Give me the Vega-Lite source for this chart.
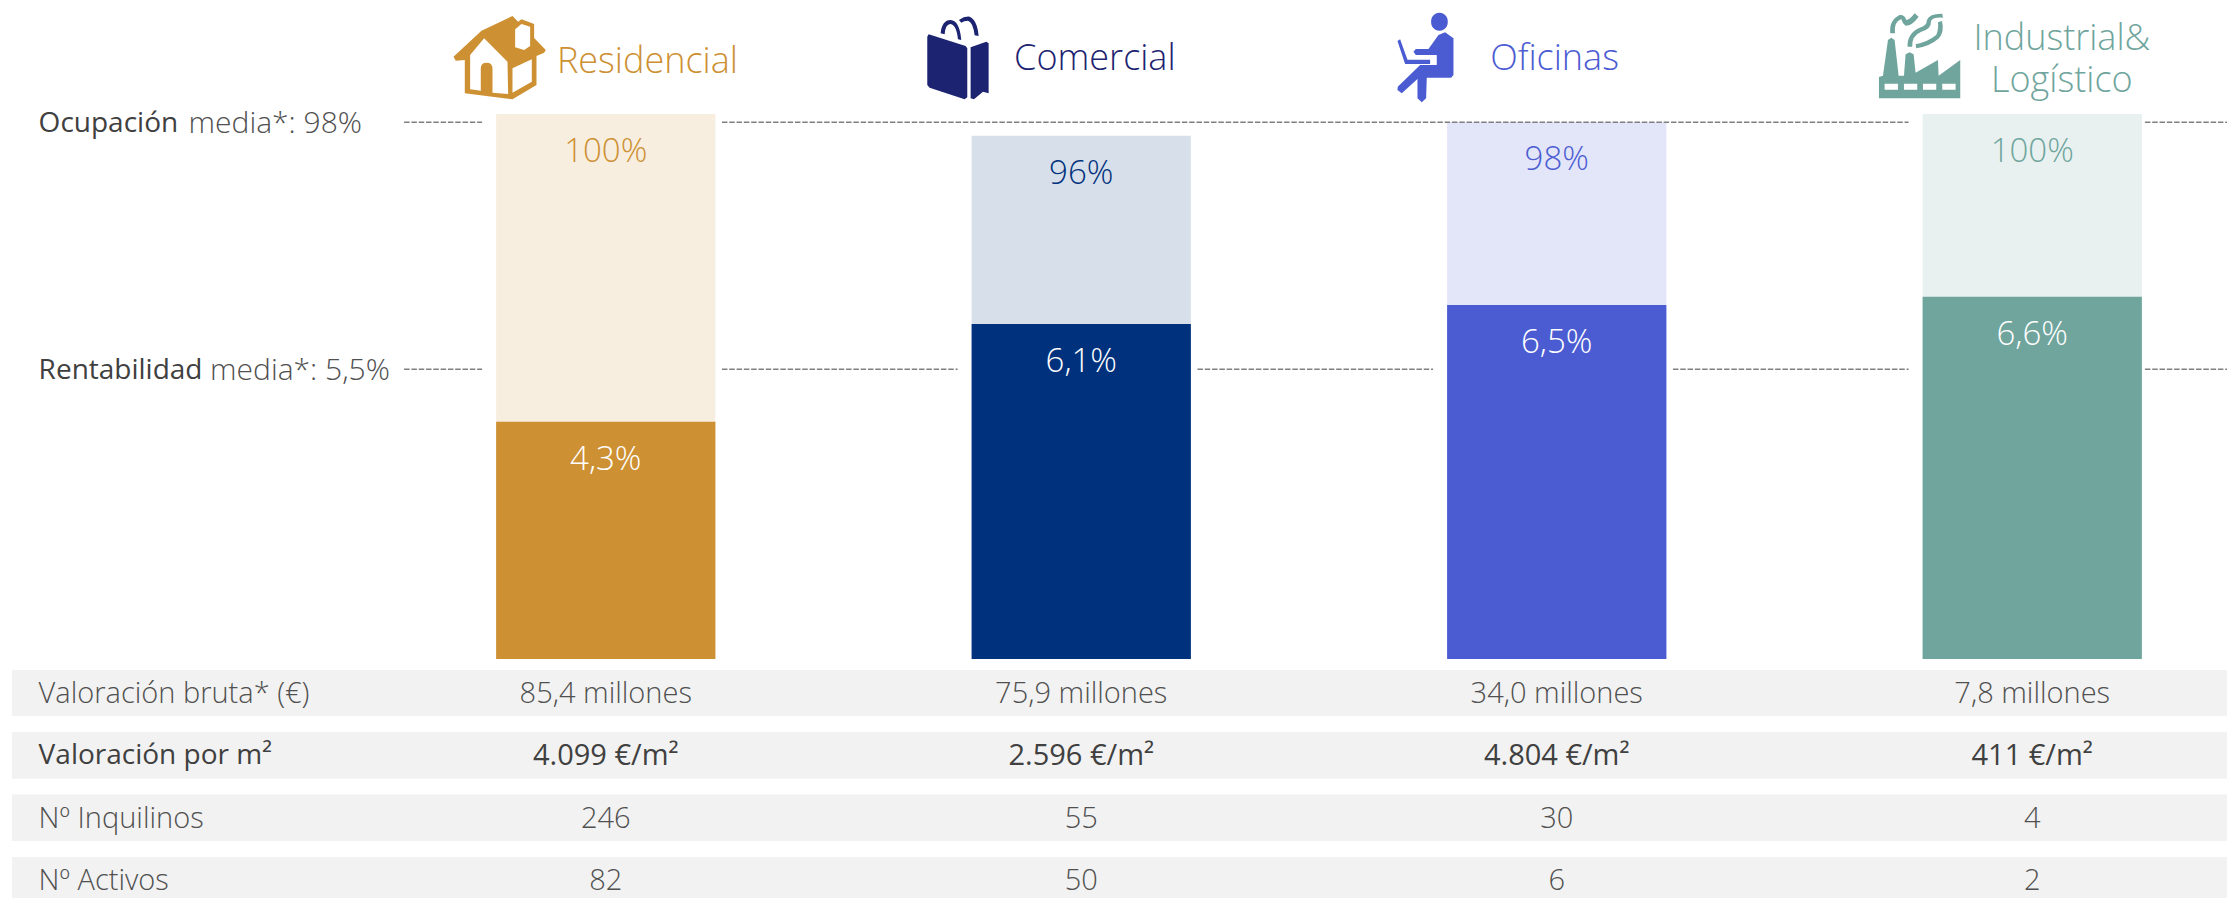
{
"$schema":"https://vega.github.io/schema/vega-lite/v6.json",
"width":2215,"height":898,"padding":{"left":12,"top":0,"right":0,"bottom":0},"autosize":{"type":"none"},"background":"white",
"config":{"view":{"stroke":null},"text":{"font":"Open Sans","fontWeight":300}},
"datasets":{
"sectores":[
{"sector":"Residencial","ocupacion":100,"ocupacionTexto":"100%","rentabilidad":4.32,"rentabilidadTexto":"4,3%"},
{"sector":"Comercial","ocupacion":96,"ocupacionTexto":"96%","rentabilidad":6.1,"rentabilidadTexto":"6,1%"},
{"sector":"Oficinas","ocupacion":98.5,"ocupacionTexto":"98%","rentabilidad":6.45,"rentabilidadTexto":"6,5%"},
{"sector":"Industrial","ocupacion":100,"ocupacionTexto":"100%","rentabilidad":6.6,"rentabilidadTexto":"6,6%"}],
"cabecera":[
{"sector":"Residencial","linea":"Cabecera","texto":"Residencial"},
{"sector":"Comercial","linea":"Cabecera","texto":"Comercial"},
{"sector":"Oficinas","linea":"Cabecera","texto":"Oficinas"},
{"sector":"Industrial","linea":"Línea 1","texto":"Industrial&"},
{"sector":"Industrial","linea":"Línea 2","texto":"Logístico"}],
"iconos":[{"sector":"Residencial","linea":"Cabecera"},{"sector":"Comercial","linea":"Cabecera"},{"sector":"Oficinas","linea":"Cabecera"},{"sector":"Industrial","linea":"Cabecera"}],
"tabla":[
{"fila":"Valoración bruta* (€)","sector":"Etiqueta","valor":"Valoración bruta* (€)"},
{"fila":"Valoración bruta* (€)","sector":"Residencial","valor":"85,4 millones"},
{"fila":"Valoración bruta* (€)","sector":"Comercial","valor":"75,9 millones"},
{"fila":"Valoración bruta* (€)","sector":"Oficinas","valor":"34,0 millones"},
{"fila":"Valoración bruta* (€)","sector":"Industrial","valor":"7,8 millones"},
{"fila":"Valoración por m²","sector":"Etiqueta","valor":"Valoración por m²"},
{"fila":"Valoración por m²","sector":"Residencial","valor":"4.099 €/m²"},
{"fila":"Valoración por m²","sector":"Comercial","valor":"2.596 €/m²"},
{"fila":"Valoración por m²","sector":"Oficinas","valor":"4.804 €/m²"},
{"fila":"Valoración por m²","sector":"Industrial","valor":"411 €/m²"},
{"fila":"Nº Inquilinos","sector":"Etiqueta","valor":"Nº Inquilinos"},
{"fila":"Nº Inquilinos","sector":"Residencial","valor":"246"},
{"fila":"Nº Inquilinos","sector":"Comercial","valor":"55"},
{"fila":"Nº Inquilinos","sector":"Oficinas","valor":"30"},
{"fila":"Nº Inquilinos","sector":"Industrial","valor":"4"},
{"fila":"Nº Activos","sector":"Etiqueta","valor":"Nº Activos"},
{"fila":"Nº Activos","sector":"Residencial","valor":"82"},
{"fila":"Nº Activos","sector":"Comercial","valor":"50"},
{"fila":"Nº Activos","sector":"Oficinas","valor":"6"},
{"fila":"Nº Activos","sector":"Industrial","valor":"2"}],
"ocupacionMedia":[
{"desde":"Etiqueta","hasta":"Residencial","media":98.5,"titulo":"Ocupación","detalle":"media*: 98%","tramo":"inicio"},
{"desde":"Residencial","hasta":"Industrial","media":98.5,"titulo":"Ocupación","detalle":"media*: 98%","tramo":"medio"},
{"desde":"Industrial","hasta":"Industrial","media":98.5,"titulo":"Ocupación","detalle":"media*: 98%","tramo":"fin"}],
"rentabilidadMedia":[
{"desde":"Etiqueta","hasta":"Residencial","media":5.28,"titulo":"Rentabilidad","detalle":"media*: 5,5%","tramo":"inicio"},
{"desde":"Residencial","hasta":"Comercial","media":5.28,"titulo":"Rentabilidad","detalle":"media*: 5,5%","tramo":"medio"},
{"desde":"Comercial","hasta":"Oficinas","media":5.28,"titulo":"Rentabilidad","detalle":"media*: 5,5%","tramo":"medio"},
{"desde":"Oficinas","hasta":"Industrial","media":5.28,"titulo":"Rentabilidad","detalle":"media*: 5,5%","tramo":"medio"},
{"desde":"Industrial","hasta":"Industrial","media":5.28,"titulo":"Rentabilidad","detalle":"media*: 5,5%","tramo":"fin"}]
},
"resolve":{"scale":{"y":"independent","color":"independent"}},
"layer":[
{"layer":[
{"data":{"name":"tabla"},"mark":{"type":"rect","fill":"#f2f2f2"},
 "encoding":{"y":{"field":"fila","type":"nominal","axis":null,"scale":{"domain":["Valoración bruta* (€)","Valoración por m²","Nº Inquilinos","Nº Activos"],"range":[670,903],"paddingInner":0.262,"paddingOuter":0}}}},
{"data":{"name":"tabla"},"transform":[{"filter":"datum.sector==='Etiqueta'&&datum.fila!=='Valoración por m²'"}],"mark":{"type":"text","align":"left","baseline":"middle","fontSize":29,"dy":1,"color":"#505050"},
 "encoding":{"x":{"field":"sector","type":"nominal","axis":null,"bandPosition":0.082,"scale":{"domain":["Etiqueta","Residencial","Comercial","Oficinas","Industrial"],"range":[-119.5,2258],"paddingInner":0.5389,"paddingOuter":0.2695}},
 "y":{"field":"fila","type":"nominal","axis":null,"scale":{"domain":["Valoración bruta* (€)","Valoración por m²","Nº Inquilinos","Nº Activos"],"range":[670,903],"paddingInner":0.262,"paddingOuter":0}},"text":{"field":"valor"}}},
{"data":{"name":"tabla"},"transform":[{"filter":"datum.sector==='Etiqueta'&&datum.fila==='Valoración por m²'"}],"mark":{"type":"text","align":"left","baseline":"middle","fontSize":28,"dy":1,"color":"#404040","fontWeight":400},
 "encoding":{"x":{"field":"sector","type":"nominal","axis":null,"bandPosition":0.082,"scale":{"domain":["Etiqueta","Residencial","Comercial","Oficinas","Industrial"],"range":[-119.5,2258],"paddingInner":0.5389,"paddingOuter":0.2695}},
 "y":{"field":"fila","type":"nominal","axis":null,"scale":{"domain":["Valoración bruta* (€)","Valoración por m²","Nº Inquilinos","Nº Activos"],"range":[670,903],"paddingInner":0.262,"paddingOuter":0}},"text":{"field":"valor"}}},
{"data":{"name":"tabla"},"transform":[{"filter":"datum.sector!=='Etiqueta'&&datum.fila!=='Valoración por m²'"}],"mark":{"type":"text","align":"center","baseline":"middle","fontSize":29,"dy":1,"color":"#505050"},
 "encoding":{"x":{"field":"sector","type":"nominal","axis":null,"scale":{"domain":["Etiqueta","Residencial","Comercial","Oficinas","Industrial"],"range":[-119.5,2258],"paddingInner":0.5389,"paddingOuter":0.2695}},
 "y":{"field":"fila","type":"nominal","axis":null,"scale":{"domain":["Valoración bruta* (€)","Valoración por m²","Nº Inquilinos","Nº Activos"],"range":[670,903],"paddingInner":0.262,"paddingOuter":0}},"text":{"field":"valor"}}},
{"data":{"name":"tabla"},"transform":[{"filter":"datum.sector!=='Etiqueta'&&datum.fila==='Valoración por m²'"}],"mark":{"type":"text","align":"center","baseline":"middle","fontSize":29,"dy":1,"color":"#404040","fontWeight":400},
 "encoding":{"x":{"field":"sector","type":"nominal","axis":null,"scale":{"domain":["Etiqueta","Residencial","Comercial","Oficinas","Industrial"],"range":[-119.5,2258],"paddingInner":0.5389,"paddingOuter":0.2695}},
 "y":{"field":"fila","type":"nominal","axis":null,"scale":{"domain":["Valoración bruta* (€)","Valoración por m²","Nº Inquilinos","Nº Activos"],"range":[670,903],"paddingInner":0.262,"paddingOuter":0}},"text":{"field":"valor"}}}
]},
{"layer":[
{"data":{"name":"sectores"},"mark":{"type":"bar","opacity":0.155},
 "encoding":{"x":{"field":"sector","type":"nominal","axis":null,"scale":{"domain":["Etiqueta","Residencial","Comercial","Oficinas","Industrial"],"range":[-119.5,2258],"paddingInner":0.5389,"paddingOuter":0.2695}},
 "y":{"field":"ocupacion","type":"quantitative","axis":null,"scale":{"domain":[0,100],"range":[659,114]}},
 "color":{"field":"sector","type":"nominal","legend":null,"scale":{"domain":["Residencial","Comercial","Oficinas","Industrial"],"range":["#cd9033","#00317c","#4b5cd2","#6fa59d"]}}}},
{"data":{"name":"sectores"},"mark":{"type":"text","align":"center","baseline":"middle","fontSize":33,"dy":38},
 "encoding":{"x":{"field":"sector","type":"nominal","axis":null,"scale":{"domain":["Etiqueta","Residencial","Comercial","Oficinas","Industrial"],"range":[-119.5,2258],"paddingInner":0.5389,"paddingOuter":0.2695}},
 "y":{"field":"ocupacion","type":"quantitative","axis":null,"scale":{"domain":[0,100],"range":[659,114]}},
 "text":{"field":"ocupacionTexto"},
 "color":{"field":"sector","type":"nominal","legend":null,"scale":{"domain":["Residencial","Comercial","Oficinas","Industrial"],"range":["#cd9033","#00317c","#4b5cd2","#6fa59d"]}}}},
{"data":{"name":"ocupacionMedia"},"transform":[{"filter":"datum.tramo==='inicio'"}],"mark":{"type":"rule","color":"#808080","strokeWidth":1.5,"strokeDash":[5.5,1.8]},
 "encoding":{"x":{"field":"desde","type":"nominal","axis":null,"bandPosition":1.749,"scale":{"domain":["Etiqueta","Residencial","Comercial","Oficinas","Industrial"],"range":[-119.5,2258],"paddingInner":0.5389,"paddingOuter":0.2695}},"x2":{"field":"hasta","bandPosition":-0.064},
 "y":{"field":"media","type":"quantitative","axis":null,"scale":{"domain":[0,100],"range":[659,114]}}}},
{"data":{"name":"ocupacionMedia"},"transform":[{"filter":"datum.tramo==='medio'"}],"mark":{"type":"rule","color":"#808080","strokeWidth":1.5,"strokeDash":[5.5,1.8]},
 "encoding":{"x":{"field":"desde","type":"nominal","axis":null,"bandPosition":1.03,"scale":{"domain":["Etiqueta","Residencial","Comercial","Oficinas","Industrial"],"range":[-119.5,2258],"paddingInner":0.5389,"paddingOuter":0.2695}},"x2":{"field":"hasta","bandPosition":-0.064},
 "y":{"field":"media","type":"quantitative","axis":null,"scale":{"domain":[0,100],"range":[659,114]}}}},
{"data":{"name":"ocupacionMedia"},"transform":[{"filter":"datum.tramo==='fin'"}],"mark":{"type":"rule","color":"#808080","strokeWidth":1.5,"strokeDash":[5.5,1.8]},
 "encoding":{"x":{"field":"desde","type":"nominal","axis":null,"bandPosition":1.014,"scale":{"domain":["Etiqueta","Residencial","Comercial","Oficinas","Industrial"],"range":[-119.5,2258],"paddingInner":0.5389,"paddingOuter":0.2695}},"x2":{"field":"hasta","bandPosition":1.39},
 "y":{"field":"media","type":"quantitative","axis":null,"scale":{"domain":[0,100],"range":[659,114]}}}},
{"data":{"name":"ocupacionMedia"},"transform":[{"filter":"datum.tramo==='inicio'"}],"mark":{"type":"text","align":"left","baseline":"middle","fontSize":28,"dy":2,"color":"#404040","fontWeight":400},
 "encoding":{"x":{"field":"desde","type":"nominal","axis":null,"bandPosition":0.082,"scale":{"domain":["Etiqueta","Residencial","Comercial","Oficinas","Industrial"],"range":[-119.5,2258],"paddingInner":0.5389,"paddingOuter":0.2695}},
 "y":{"field":"media","type":"quantitative","axis":null,"scale":{"domain":[0,100],"range":[659,114]}},"text":{"field":"titulo"}}},
{"data":{"name":"ocupacionMedia"},"transform":[{"filter":"datum.tramo==='inicio'"}],"mark":{"type":"text","align":"left","baseline":"middle","fontSize":30,"dy":2,"color":"#505050"},
 "encoding":{"x":{"field":"desde","type":"nominal","axis":null,"bandPosition":0.766,"scale":{"domain":["Etiqueta","Residencial","Comercial","Oficinas","Industrial"],"range":[-119.5,2258],"paddingInner":0.5389,"paddingOuter":0.2695}},
 "y":{"field":"media","type":"quantitative","axis":null,"scale":{"domain":[0,100],"range":[659,114]}},"text":{"field":"detalle"}}}
]},
{"layer":[
{"data":{"name":"sectores"},"mark":{"type":"bar"},
 "encoding":{"x":{"field":"sector","type":"nominal","axis":null,"scale":{"domain":["Etiqueta","Residencial","Comercial","Oficinas","Industrial"],"range":[-119.5,2258],"paddingInner":0.5389,"paddingOuter":0.2695}},
 "y":{"field":"rentabilidad","type":"quantitative","axis":null,"scale":{"domain":[0,10],"range":[659,110]}},
 "color":{"field":"sector","type":"nominal","legend":null,"scale":{"domain":["Residencial","Comercial","Oficinas","Industrial"],"range":["#cd9033","#00317c","#4b5cd2","#6fa59d"]}}}},
{"data":{"name":"sectores"},"mark":{"type":"text","align":"center","baseline":"middle","fontSize":33,"dy":38,"color":"white"},
 "encoding":{"x":{"field":"sector","type":"nominal","axis":null,"scale":{"domain":["Etiqueta","Residencial","Comercial","Oficinas","Industrial"],"range":[-119.5,2258],"paddingInner":0.5389,"paddingOuter":0.2695}},
 "y":{"field":"rentabilidad","type":"quantitative","axis":null,"scale":{"domain":[0,10],"range":[659,110]}},"text":{"field":"rentabilidadTexto"}}},
{"data":{"name":"rentabilidadMedia"},"transform":[{"filter":"datum.tramo==='inicio'"}],"mark":{"type":"rule","color":"#808080","strokeWidth":1.5,"strokeDash":[5.5,1.8]},
 "encoding":{"x":{"field":"desde","type":"nominal","axis":null,"bandPosition":1.749,"scale":{"domain":["Etiqueta","Residencial","Comercial","Oficinas","Industrial"],"range":[-119.5,2258],"paddingInner":0.5389,"paddingOuter":0.2695}},"x2":{"field":"hasta","bandPosition":-0.064},
 "y":{"field":"media","type":"quantitative","axis":null,"scale":{"domain":[0,10],"range":[659,110]}}}},
{"data":{"name":"rentabilidadMedia"},"transform":[{"filter":"datum.tramo==='medio'"}],"mark":{"type":"rule","color":"#808080","strokeWidth":1.5,"strokeDash":[5.5,1.8]},
 "encoding":{"x":{"field":"desde","type":"nominal","axis":null,"bandPosition":1.03,"scale":{"domain":["Etiqueta","Residencial","Comercial","Oficinas","Industrial"],"range":[-119.5,2258],"paddingInner":0.5389,"paddingOuter":0.2695}},"x2":{"field":"hasta","bandPosition":-0.064},
 "y":{"field":"media","type":"quantitative","axis":null,"scale":{"domain":[0,10],"range":[659,110]}}}},
{"data":{"name":"rentabilidadMedia"},"transform":[{"filter":"datum.tramo==='fin'"}],"mark":{"type":"rule","color":"#808080","strokeWidth":1.5,"strokeDash":[5.5,1.8]},
 "encoding":{"x":{"field":"desde","type":"nominal","axis":null,"bandPosition":1.014,"scale":{"domain":["Etiqueta","Residencial","Comercial","Oficinas","Industrial"],"range":[-119.5,2258],"paddingInner":0.5389,"paddingOuter":0.2695}},"x2":{"field":"hasta","bandPosition":1.39},
 "y":{"field":"media","type":"quantitative","axis":null,"scale":{"domain":[0,10],"range":[659,110]}}}},
{"data":{"name":"rentabilidadMedia"},"transform":[{"filter":"datum.tramo==='inicio'"}],"mark":{"type":"text","align":"left","baseline":"middle","fontSize":28,"dy":2,"color":"#404040","fontWeight":400},
 "encoding":{"x":{"field":"desde","type":"nominal","axis":null,"bandPosition":0.082,"scale":{"domain":["Etiqueta","Residencial","Comercial","Oficinas","Industrial"],"range":[-119.5,2258],"paddingInner":0.5389,"paddingOuter":0.2695}},
 "y":{"field":"media","type":"quantitative","axis":null,"scale":{"domain":[0,10],"range":[659,110]}},"text":{"field":"titulo"}}},
{"data":{"name":"rentabilidadMedia"},"transform":[{"filter":"datum.tramo==='inicio'"}],"mark":{"type":"text","align":"left","baseline":"middle","fontSize":30,"dy":2,"color":"#505050"},
 "encoding":{"x":{"field":"desde","type":"nominal","axis":null,"bandPosition":0.864,"scale":{"domain":["Etiqueta","Residencial","Comercial","Oficinas","Industrial"],"range":[-119.5,2258],"paddingInner":0.5389,"paddingOuter":0.2695}},
 "y":{"field":"media","type":"quantitative","axis":null,"scale":{"domain":[0,10],"range":[659,110]}},"text":{"field":"detalle"}}}
]},
{"layer":[
{"data":{"name":"iconos"},"mark":{"type":"point","filled":true,"opacity":1,"size":10000,"strokeWidth":0},
 "encoding":{"x":{"field":"sector","type":"nominal","axis":null,"bandPosition":0,"scale":{"domain":["Etiqueta","Residencial","Comercial","Oficinas","Industrial"],"range":[-119.5,2258],"paddingInner":0.5389,"paddingOuter":0.2695}},
 "y":{"field":"linea","type":"nominal","axis":null,"scale":{"type":"point","domain":["Línea 1","Cabecera","Línea 2"],"range":[39,81],"padding":0}},
 "shape":{"field":"sector","type":"nominal","legend":null,"scale":{"domain":["Residencial","Comercial","Oficinas","Industrial"],"range":[
 "M-.853 -.067L-.293 -.587L.327 -.88L.44 -.765L.507 -.813L.76 -.72L.76 -.44L.993 -.2L.96 -.147L.807 -.08L.807 .5L.327 .787L-.627 .667L-.627 0L-.807 .013ZM-.52 .587L-.307 .613L-.307 .167Q-.307 .053 -.193 .053Q-.073 .053 -.073 .167L-.073 .653L.24 .68L.227 .033L-.24 -.433L-.52 -.1ZM.327 .653L.713 .433L.713 -.013L.327 .167ZM.38 -.253L.56 -.2L.68 -.28L.68 -.667L.507 -.72L.38 -.613Z",
 "M-.86 -.513L-.12 -.28L-.087 -.233L-.087 .747L-.14 .787L-.84 .553L-.887 .5L-.887 -.467ZM-.02 -.253L.293 -.367L.34 -.333L.34 .667L.227 .633L.047 .787L-.02 .767ZM-.62 -.533Q-.593 -.8 -.42 -.8Q-.24 -.787 -.207 -.4L-.273 -.413Q-.307 -.72 -.433 -.72Q-.527 -.707 -.54 -.513ZM-.253 -.8Q-.14 -.88 -.04 -.867Q.113 -.8 .14 -.48L.06 -.493Q.027 -.76 -.073 -.787Q-.153 -.787 -.207 -.747Z",
 "M-.32 -.767A.167 .167 0 1 0 .013 -.767A.167 .167 0 1 0 -.32 -.767ZM-.673 -.167L-.627 -.22L-.373 -.22L-.173 -.5L-.04 -.553L.127 -.433L.127 .3L.08 .353L-.407 .353L-.42 .767L-.507 .847L-.593 .767L-.593 .38L-.907 .667L-.993 .6L-.987 .533L-.54 .1L-.207 .1L-.207 -.1L-.627 -.1ZM-.993 -.38L-.94 -.413L-.793 -.007L-.34 -.007L-.34 .08L-.84 .08Z",
 "M-.873 .34L-.793 .313L-.693 -.4L-.627 -.447L-.56 -.4L-.48 .313L-.373 .313L-.34 -.113L-.26 -.153L-.18 -.113L-.14 .267L-.247 .313L.307 0L.32 .313L.753 0L.753 .767L-.873 .767ZM-.76 .473L-.76 .593L-.493 .593L-.493 .473ZM-.373 .473L-.373 .593L-.107 .593L-.107 .473ZM.007 .473L.007 .593L.273 .593L.273 .473ZM.393 .473L.393 .593L.66 .593L.66 .473ZM-.3 -.267Q-.313 -.533 -.06 -.647Q.087 -.687 .087 -.8Q.14 -.933 .393 -.927L.407 -.847Q.207 -.86 .167 -.78Q.18 -.62 -.027 -.567Q-.22 -.487 -.207 -.267ZM-.14 -.313Q.107 -.367 .273 -.5Q.327 -.633 .307 -.753L.387 -.78Q.44 -.567 .327 -.433Q.14 -.267 -.127 -.233ZM-.647 -.533Q-.673 -.8 -.46 -.9Q-.36 -.913 -.327 -.8Q-.26 -.8 -.16 -.933L-.08 -.867Q-.207 -.687 -.34 -.687Q-.407 -.733 -.427 -.82Q-.58 -.767 -.553 -.533Z"]}},
 "color":{"field":"sector","type":"nominal","legend":null,"scale":{"domain":["Residencial","Comercial","Oficinas","Industrial"],"range":["#cd9033","#1c2370","#4b5cd2","#6fa59d"]}}}},
{"data":{"name":"cabecera"},"transform":[{"filter":"datum.sector==='Residencial'"}],"mark":{"type":"text","align":"center","baseline":"middle","fontSize":36,"dy":2},
 "encoding":{"x":{"field":"sector","type":"nominal","axis":null,"bandPosition":0.69,"scale":{"domain":["Etiqueta","Residencial","Comercial","Oficinas","Industrial"],"range":[-119.5,2258],"paddingInner":0.5389,"paddingOuter":0.2695}},
 "y":{"field":"linea","type":"nominal","axis":null,"scale":{"type":"point","domain":["Línea 1","Cabecera","Línea 2"],"range":[39,81],"padding":0}},"text":{"field":"texto"},
 "color":{"field":"sector","type":"nominal","legend":null,"scale":{"domain":["Residencial","Comercial","Oficinas","Industrial"],"range":["#cd9033","#1c2370","#4b5cd2","#6fa59d"]}}}},
{"data":{"name":"cabecera"},"transform":[{"filter":"datum.sector==='Comercial'"}],"mark":{"type":"text","align":"center","baseline":"middle","fontSize":36,"dy":-1},
 "encoding":{"x":{"field":"sector","type":"nominal","axis":null,"bandPosition":0.562,"scale":{"domain":["Etiqueta","Residencial","Comercial","Oficinas","Industrial"],"range":[-119.5,2258],"paddingInner":0.5389,"paddingOuter":0.2695}},
 "y":{"field":"linea","type":"nominal","axis":null,"scale":{"type":"point","domain":["Línea 1","Cabecera","Línea 2"],"range":[39,81],"padding":0}},"text":{"field":"texto"},
 "color":{"field":"sector","type":"nominal","legend":null,"scale":{"domain":["Residencial","Comercial","Oficinas","Industrial"],"range":["#cd9033","#1c2370","#4b5cd2","#6fa59d"]}}}},
{"data":{"name":"cabecera"},"transform":[{"filter":"datum.sector==='Oficinas'"}],"mark":{"type":"text","align":"center","baseline":"middle","fontSize":36,"dy":-1},
 "encoding":{"x":{"field":"sector","type":"nominal","axis":null,"bandPosition":0.49,"scale":{"domain":["Etiqueta","Residencial","Comercial","Oficinas","Industrial"],"range":[-119.5,2258],"paddingInner":0.5389,"paddingOuter":0.2695}},
 "y":{"field":"linea","type":"nominal","axis":null,"scale":{"type":"point","domain":["Línea 1","Cabecera","Línea 2"],"range":[39,81],"padding":0}},"text":{"field":"texto"},
 "color":{"field":"sector","type":"nominal","legend":null,"scale":{"domain":["Residencial","Comercial","Oficinas","Industrial"],"range":["#cd9033","#1c2370","#4b5cd2","#6fa59d"]}}}},
{"data":{"name":"cabecera"},"transform":[{"filter":"datum.sector==='Industrial'"}],"mark":{"type":"text","align":"center","baseline":"middle","fontSize":36},
 "encoding":{"x":{"field":"sector","type":"nominal","axis":null,"bandPosition":0.635,"scale":{"domain":["Etiqueta","Residencial","Comercial","Oficinas","Industrial"],"range":[-119.5,2258],"paddingInner":0.5389,"paddingOuter":0.2695}},
 "y":{"field":"linea","type":"nominal","axis":null,"scale":{"type":"point","domain":["Línea 1","Cabecera","Línea 2"],"range":[39,81],"padding":0}},"text":{"field":"texto"},
 "color":{"field":"sector","type":"nominal","legend":null,"scale":{"domain":["Residencial","Comercial","Oficinas","Industrial"],"range":["#cd9033","#1c2370","#4b5cd2","#6fa59d"]}}}}
]}
]
}
